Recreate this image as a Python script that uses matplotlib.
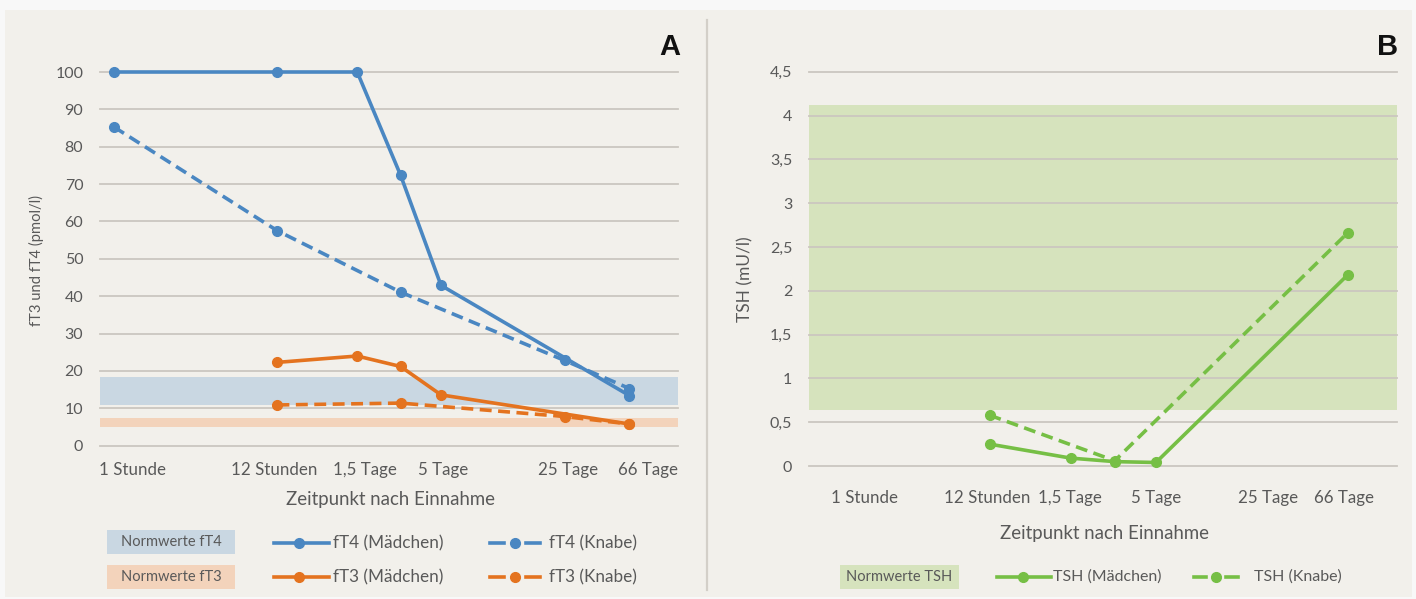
import matplotlib.pyplot as plt
from matplotlib.lines import Line2D
from matplotlib.patches import Rectangle

W, H = 1416, 599

# time axis (relative position on the time axis, 0..1)
zeit_labels = ["1 Stunde", "12 Stunden", "1,5 Tage", "5 Tage", "25 Tage", "66 Tage"]
tick_pos_A = [0.057, 0.301, 0.458, 0.593, 0.810, 0.948]
tick_pos_B = [0.094, 0.303, 0.444, 0.590, 0.780, 0.910]

# sample times (relative position)
t_1h, t_12h, t_36h, t_3d, t_5d, t_25d, t_66d = 0.024, 0.307, 0.445, 0.520, 0.590, 0.804, 0.916

# panel A
ft4_m_x = [t_1h, t_12h, t_36h, t_3d, t_5d, t_66d]
ft4_m_y = [100, 100, 100, 72.4, 42.9, 13.4]
ft4_k_x = [t_1h, t_12h, t_3d, t_25d, t_66d]
ft4_k_y = [85.3, 57.5, 41.1, 22.8, 15.3]
ft3_m_x = [t_12h, t_36h, t_3d, t_5d, t_66d]
ft3_m_y = [22.3, 24.0, 21.2, 13.6, 5.8]
ft3_k_x = [t_12h, t_3d, t_25d, t_66d]
ft3_k_y = [10.9, 11.4, 7.8, 5.8]
norm_ft4 = (11.0, 18.3)
norm_ft3 = (5.1, 7.3)

# panel B
tsh_m_x = [t_12h, t_36h, t_3d, t_5d, t_66d]
tsh_m_y = [0.25, 0.09, 0.05, 0.04, 2.18]
tsh_k_x = [t_12h, t_3d, t_66d]
tsh_k_y = [0.58, 0.06, 2.66]
norm_tsh = (0.64, 4.12)

blue = '#4a87c2'
orange = '#e4731f'
green = '#76bf45'
txt = '#595959'
grid = '#cbc7c0'
bg = '#f2f0eb'
dash = (0, (3.3, 1.8))

plt.rcParams['font.family'] = ['Lato', 'DejaVu Sans']

fig = plt.figure(figsize=(W / 100, H / 100), dpi=100, facecolor='#f8f8f8')
fig.patches.append(Rectangle((5 / W, 1 - 597 / H), 1407 / W, 587 / H,
                             transform=fig.transFigure, facecolor=bg,
                             edgecolor='none', zorder=-10))


def fx(px):
    return px / W


def fy(py):
    return 1 - py / H


def style_axes(ax, ticks, ymax, ystep, fmt):
    ax.set_facecolor('none')
    for s in ax.spines.values():
        s.set_visible(False)
    ax.set_xlim(0, 1)
    ax.set_ylim(0, ymax)
    yt = [i * ystep for i in range(int(round(ymax / ystep)) + 1)]
    ax.set_yticks(yt)
    ax.set_yticklabels([fmt(v) for v in yt])
    ax.set_xticks(ticks)
    ax.set_xticklabels(zeit_labels)
    ax.tick_params(length=0, colors=txt)
    ax.tick_params(axis='y', pad=12, labelsize=11.5)
    ax.tick_params(axis='x', labelsize=12.2)
    for v in yt:
        ax.axhline(v, color=grid, lw=1.3, zorder=1, clip_on=False)


# ---- Panel A ----
axA = fig.add_axes([fx(100), fy(445.7), fx(578), (445.7 - 72) / H])
style_axes(axA, tick_pos_A, 100, 10, lambda v: f"{v:g}")
axA.tick_params(axis='x', pad=12)
axA.axhspan(*norm_ft4, color='#c9d7e2', zorder=0.5, lw=0)
axA.axhspan(*norm_ft3, color='#f3d3bb', zorder=0.5, lw=0)

kw = dict(lw=2.6, marker='o', ms=7, clip_on=False, zorder=3)
axA.plot(ft4_m_x, ft4_m_y, color=blue, **kw)
axA.plot(ft4_k_x, ft4_k_y, color=blue, ls=dash, **kw)
axA.plot(ft3_m_x, ft3_m_y, color=orange, **kw)
axA.plot(ft3_k_x, ft3_k_y, color=orange, ls=dash, **kw)

fig.text(fx(36), fy(261), "fT3 und fT4 (pmol/l)", rotation=90, ha='center',
         va='center', color=txt, fontsize=10.6)
fig.text(fx(390), fy(499), "Zeitpunkt nach Einnahme", ha='center', va='center',
         color=txt, fontsize=13.4)
fig.text(fx(670), fy(47), "A", ha='center', va='center', fontsize=21,
         fontweight='bold', color='#111111', family='Liberation Sans')

# ---- Panel B ----
axB = fig.add_axes([fx(809), fy(466), fx(588), (466 - 71.7) / H])
style_axes(axB, tick_pos_B, 4.5, 0.5, lambda v: f"{v:g}".replace('.', ','))
axB.tick_params(axis='x', pad=17)
axB.axhspan(*norm_tsh, color='#d6e3bd', zorder=0.5, lw=0)
axB.plot(tsh_m_x, tsh_m_y, color=green, **kw)
axB.plot(tsh_k_x, tsh_k_y, color=green, ls=dash, **kw)

fig.text(fx(745), fy(279), "TSH (mU/l)", rotation=90, ha='center',
         va='center', color=txt, fontsize=12.5)
fig.text(fx(1105), fy(533), "Zeitpunkt nach Einnahme", ha='center', va='center',
         color=txt, fontsize=13.4)
fig.text(fx(1388), fy(47), "B", ha='center', va='center', fontsize=21,
         fontweight='bold', color='#111111', family='Liberation Sans')

# separator
fig.add_artist(Line2D([fx(707), fx(707)], [fy(20), fy(590)], color='#d3cfc8', lw=1.6))


# ---- legends ----
def legend_box(x0, x1, y0, y1, color, label):
    fig.patches.append(Rectangle((fx(x0), fy(y1)), fx(x1 - x0), (y1 - y0) / H,
                                 transform=fig.transFigure, facecolor=color,
                                 edgecolor='none'))
    fig.text(fx((x0 + x1) / 2), fy((y0 + y1) / 2), label, ha='center', va='center',
             color=txt, fontsize=10.5)


def legend_line(x0, x1, xm, y, color, dashed, label, xt, size):
    if dashed:
        # short dash - marker - short dash
        seg = (x1 - x0) * 0.28
        for a, b in [(x0, x0 + seg), (x1 - seg, x1)]:
            fig.add_artist(Line2D([fx(a), fx(b)], [fy(y), fy(y)], color=color, lw=2.6))
    else:
        fig.add_artist(Line2D([fx(x0), fx(x1)], [fy(y), fy(y)], color=color, lw=2.6))
    fig.add_artist(Line2D([fx(xm)], [fy(y)], color=color, marker='o', ms=7, lw=0))
    fig.text(fx(xt), fy(y), label, ha='left', va='center', color=txt, fontsize=size)


legend_box(107, 235, 530, 554, '#c9d7e2', "Normwerte fT4")
legend_box(107, 235, 565, 589, '#f3d3bb', "Normwerte fT3")
legend_line(274, 329, 299, 543, blue, False, "fT4 (Mädchen)", 333, 12.3)
legend_line(274, 329, 299, 577, orange, False, "fT3 (Mädchen)", 333, 12.3)
legend_line(490, 540, 515, 543, blue, True, "fT4 (Knabe)", 549, 12.3)
legend_line(490, 540, 515, 577, orange, True, "fT3 (Knabe)", 549, 12.3)

legend_box(840, 959, 565, 589, '#d6e3bd', "Normwerte TSH")
legend_line(997, 1051, 1023, 577, green, False, "TSH (Mädchen)", 1053, 11.5)
legend_line(1194, 1238, 1216, 577, green, True, "TSH (Knabe)", 1254, 11.5)

fig.savefig('out.png', dpi=100, facecolor=fig.get_facecolor())
